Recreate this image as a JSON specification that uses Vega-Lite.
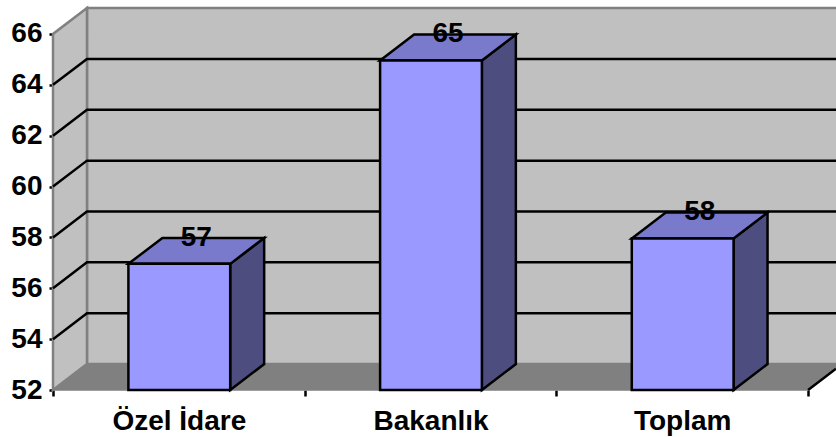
{"$schema":"https://vega.github.io/schema/vega-lite/v6.json","width":783,"height":385,"autosize":{"type":"none"},"padding":{"left":53,"top":5,"right":0,"bottom":47},"background":"white","config":{"view":{"stroke":null},"font":"Liberation Sans"},"datasets":{"bars":[{"label":"Özel İdare","value":56.96,"start":0.2996,"end":0.704,"mid":0.502},{"label":"Bakanlık","value":64.96,"start":1.2996,"end":1.704,"mid":1.502},{"label":"Toplam","value":57.96,"start":2.2996,"end":2.704,"mid":2.502}],"faces":[{"face":"leftwall","id":"w","x":0,"y":52,"y2":66},{"face":"leftwall","id":"w","x":0.135,"y":53.02,"y2":67.02},{"face":"floor","id":"f","x":0,"y":52,"y2":52},{"face":"floor","id":"f","x":0.135,"y":52,"y2":53.02},{"face":"floor","id":"f","x":3,"y":52,"y2":53.02},{"face":"floor","id":"f","x":3.111,"y":52.84,"y2":53.02},{"face":"top","id":"a","x":0.2996,"y":56.96,"y2":56.96},{"face":"top","id":"a","x":0.4346,"y":56.96,"y2":57.98},{"face":"top","id":"a","x":0.704,"y":56.96,"y2":57.98},{"face":"top","id":"a","x":0.839,"y":57.98,"y2":57.98},{"face":"top","id":"b","x":1.2996,"y":64.96,"y2":64.96},{"face":"top","id":"b","x":1.4346,"y":64.96,"y2":65.98},{"face":"top","id":"b","x":1.704,"y":64.96,"y2":65.98},{"face":"top","id":"b","x":1.839,"y":65.98,"y2":65.98},{"face":"top","id":"c","x":2.2996,"y":57.96,"y2":57.96},{"face":"top","id":"c","x":2.4346,"y":57.96,"y2":58.98},{"face":"top","id":"c","x":2.704,"y":57.96,"y2":58.98},{"face":"top","id":"c","x":2.839,"y":58.98,"y2":58.98},{"face":"side","id":"a","x":0.704,"y":52,"y2":56.96},{"face":"side","id":"a","x":0.839,"y":53.02,"y2":57.98},{"face":"side","id":"b","x":1.704,"y":52,"y2":64.96},{"face":"side","id":"b","x":1.839,"y":53.02,"y2":65.98},{"face":"side","id":"c","x":2.704,"y":52,"y2":57.96},{"face":"side","id":"c","x":2.839,"y":53.02,"y2":58.98}],"grid":[{"v":"54","x":0,"y":54},{"v":"54","x":0.135,"y":55.02},{"v":"54","x":3.111,"y":55.02},{"v":"56","x":0,"y":56},{"v":"56","x":0.135,"y":57.02},{"v":"56","x":3.111,"y":57.02},{"v":"58","x":0,"y":58},{"v":"58","x":0.135,"y":59.02},{"v":"58","x":3.111,"y":59.02},{"v":"60","x":0,"y":60},{"v":"60","x":0.135,"y":61.02},{"v":"60","x":3.111,"y":61.02},{"v":"62","x":0,"y":62},{"v":"62","x":0.135,"y":63.02},{"v":"62","x":3.111,"y":63.02},{"v":"64","x":0,"y":64},{"v":"64","x":0.135,"y":65.02},{"v":"64","x":3.111,"y":65.02},{"v":"edge","x":3,"y":52},{"v":"edge","x":3.111,"y":52.84}],"wall":[{"x":0.135,"x2":3.3,"y":53.02,"y2":67.02}]},"encoding":{"x":{"type":"quantitative","scale":{"domain":[0,3.111],"nice":false,"zero":false},"title":null},"y":{"type":"quantitative","scale":{"domain":[52,67.14],"nice":false,"zero":false},"title":null}},"layer":[{"data":{"name":"wall"},"mark":{"type":"rect","fill":"#C0C0C0","stroke":"#808080","strokeWidth":2.5,"clip":true},"encoding":{"x":{"field":"x","type":"quantitative","axis":{"values":[0,1,2,3],"labels":false,"domain":false,"grid":false,"tickSize":6,"tickWidth":2.5,"tickColor":"black","title":null}},"x2":{"field":"x2"},"y":{"field":"y","type":"quantitative","axis":{"values":[52,54,56,58,60,62,64,66],"domain":false,"grid":false,"tickSize":4,"tickWidth":2.5,"tickColor":"black","labelFont":"Liberation Sans","labelFontWeight":"bold","labelFontSize":28,"labelColor":"black","labelPadding":7,"title":null}},"y2":{"field":"y2"}}},{"data":{"name":"faces"},"transform":[{"filter":"datum.face==='leftwall'"}],"mark":{"type":"area","orient":"vertical","fill":"#C0C0C0","stroke":"#808080","strokeWidth":2.5},"encoding":{"x":{"field":"x","type":"quantitative"},"y":{"field":"y","type":"quantitative"},"y2":{"field":"y2"}}},{"data":{"name":"faces"},"transform":[{"filter":"datum.face==='floor'"}],"mark":{"type":"area","orient":"vertical","fill":"#808080","stroke":"#808080","strokeWidth":1.5},"encoding":{"x":{"field":"x","type":"quantitative"},"y":{"field":"y","type":"quantitative"},"y2":{"field":"y2"}}},{"data":{"name":"grid"},"mark":{"type":"line","color":"black","strokeWidth":2.5},"encoding":{"x":{"field":"x","type":"quantitative"},"y":{"field":"y","type":"quantitative"},"detail":{"field":"v"}}},{"mark":{"type":"rule","color":"black","strokeWidth":2.5},"encoding":{"x":{"datum":0},"y":{"datum":52},"y2":{"datum":66}}},{"mark":{"type":"rule","color":"black","strokeWidth":2.5},"encoding":{"x":{"datum":0},"x2":{"datum":3},"y":{"datum":52}}},{"data":{"name":"faces"},"transform":[{"filter":"datum.face==='side'"}],"mark":{"type":"area","orient":"vertical","fill":"#4D4D80","stroke":"black","strokeWidth":2.5},"encoding":{"x":{"field":"x","type":"quantitative"},"y":{"field":"y","type":"quantitative"},"y2":{"field":"y2"},"detail":{"field":"id"}}},{"data":{"name":"faces"},"transform":[{"filter":"datum.face==='top'"}],"mark":{"type":"area","orient":"vertical","fill":"#7A7ACC","stroke":"black","strokeWidth":2.5},"encoding":{"x":{"field":"x","type":"quantitative"},"y":{"field":"y","type":"quantitative"},"y2":{"field":"y2"},"detail":{"field":"id"}}},{"data":{"name":"bars"},"mark":{"type":"rect","fill":"#9999FF","stroke":"black","strokeWidth":2.5},"encoding":{"x":{"field":"start","type":"quantitative"},"x2":{"field":"end"},"y":{"field":"value","type":"quantitative"},"y2":{"datum":52}}},{"data":{"name":"bars"},"mark":{"type":"text","font":"Liberation Sans","fontWeight":"bold","fontSize":28,"color":"black","baseline":"middle","align":"center","dx":17,"dy":-26},"encoding":{"x":{"field":"mid","type":"quantitative"},"y":{"field":"value","type":"quantitative"},"text":{"field":"value","type":"quantitative","format":".0f"}}},{"data":{"name":"bars"},"mark":{"type":"text","font":"Liberation Sans","fontWeight":"bold","fontSize":28,"color":"black","baseline":"middle","align":"center","dy":32},"encoding":{"x":{"field":"mid","type":"quantitative"},"y":{"datum":52},"text":{"field":"label","type":"nominal"}}}]}
